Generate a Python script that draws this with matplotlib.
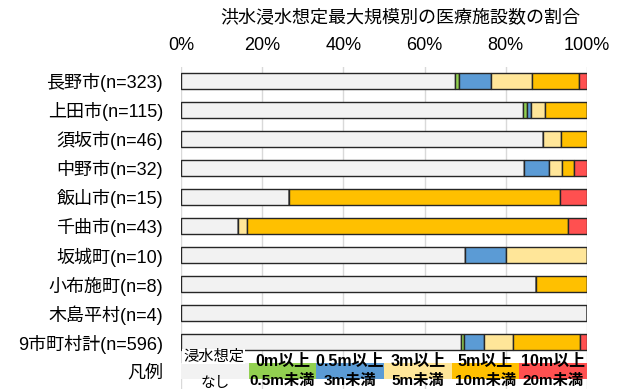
import numpy as np
import matplotlib
matplotlib.use('Agg')
import matplotlib.pyplot as plt

plt.rcParams['font.family'] = ['Liberation Sans', 'Noto Sans CJK JP', 'DejaVu Sans']

# 市町村ごとの施設数
areas = ['長野市', '上田市', '須坂市', '中野市', '飯山市', '千曲市',
         '坂城町', '小布施町', '木島平村', '9市町村計']
n_none = [218, 97, 41, 27, 4, 6, 7, 7, 4, 411]
n_0_05 = [3, 1, 0, 0, 0, 0, 0, 0, 0, 4]
n_05_3 = [26, 1, 0, 2, 0, 0, 1, 0, 0, 30]
n_3_5 = [32, 4, 2, 1, 0, 1, 2, 0, 0, 42]
n_5_10 = [38, 12, 3, 1, 10, 34, 0, 1, 0, 99]
n_10_20 = [6, 0, 0, 1, 1, 2, 0, 0, 0, 10]

colors = ['#F2F2F2', '#92D050', '#5B9BD5', '#FFE699', '#FFC000', '#FF5050']
legend_top = ['浸水想定', '0m以上', '0.5m以上', '3m以上', '5m以上', '10m以上']
legend_bottom = ['なし', '0.5m未満', '3m未満', '5m未満', '10m未満', '20m未満']
xticks = [0, 20, 40, 60, 80, 100]

series = np.array([n_none, n_0_05, n_05_3, n_3_5, n_5_10, n_10_20], dtype=float)
totals = series.sum(axis=0)
pct = series / totals * 100

labels = ['%s(n=%d)' % (a, t) for a, t in zip(areas, totals)] + ['凡例']

W, H = 622, 389
fig = plt.figure(figsize=(W / 100, H / 100), dpi=100)
ax = fig.add_axes([181 / W, 0, 406 / W, 1 - 66.5 / H])

y = np.arange(len(areas))
left = np.zeros(len(areas))
for k in range(len(colors)):
    ax.barh(y, pct[k], left=left, height=0.55, color=colors[k],
            edgecolor='#262626', linewidth=1.0, zorder=3)
    left += pct[k]

# 凡例の行（6等分）
ly = len(areas)
seg = 100 / len(colors)
for k in range(len(colors)):
    ax.barh(ly, seg, left=k * seg, height=0.55, color=colors[k],
            linewidth=0, zorder=3)
    cx = (k + 0.5) * seg
    if k == 0:
        ax.text(0.5, ly - 0.5, legend_top[k], ha='left', va='center', fontsize=11,
                zorder=5, bbox=dict(facecolor='white', edgecolor='none', pad=0.5))
        ax.text(cx, ly + 0.4, legend_bottom[k], ha='center', va='center',
                fontsize=10.5, zorder=5)
    else:
        ax.text(cx, ly - 0.33, legend_top[k], ha='center', va='center',
                fontsize=11.5, fontweight='bold', zorder=5)
        ax.text(cx, ly + 0.34, legend_bottom[k], ha='center', va='center',
                fontsize=11, fontweight='bold', zorder=5)

ax.set_xlim(0, 100)
ax.set_ylim((H - 81) / 29, -0.5)
ax.set_yticks(list(y) + [ly])
ax.set_yticklabels(labels, fontsize=13)
ax.set_xticks(xticks)
ax.set_xticklabels(['%d%%' % v for v in xticks], fontsize=13)
ax.xaxis.tick_top()
ax.tick_params(axis='x', length=0, pad=9)
ax.tick_params(axis='y', length=0, pad=13)
ax.grid(axis='x', color='#D9D9D9', linewidth=1, zorder=0)
for s in ax.spines.values():
    s.set_visible(False)

fig.text(400 / W, 1 - 18 / H, '洪水浸水想定最大規模別の医療施設数の割合',
         ha='center', va='center', fontsize=13)

fig.savefig('out.png', dpi=100)
